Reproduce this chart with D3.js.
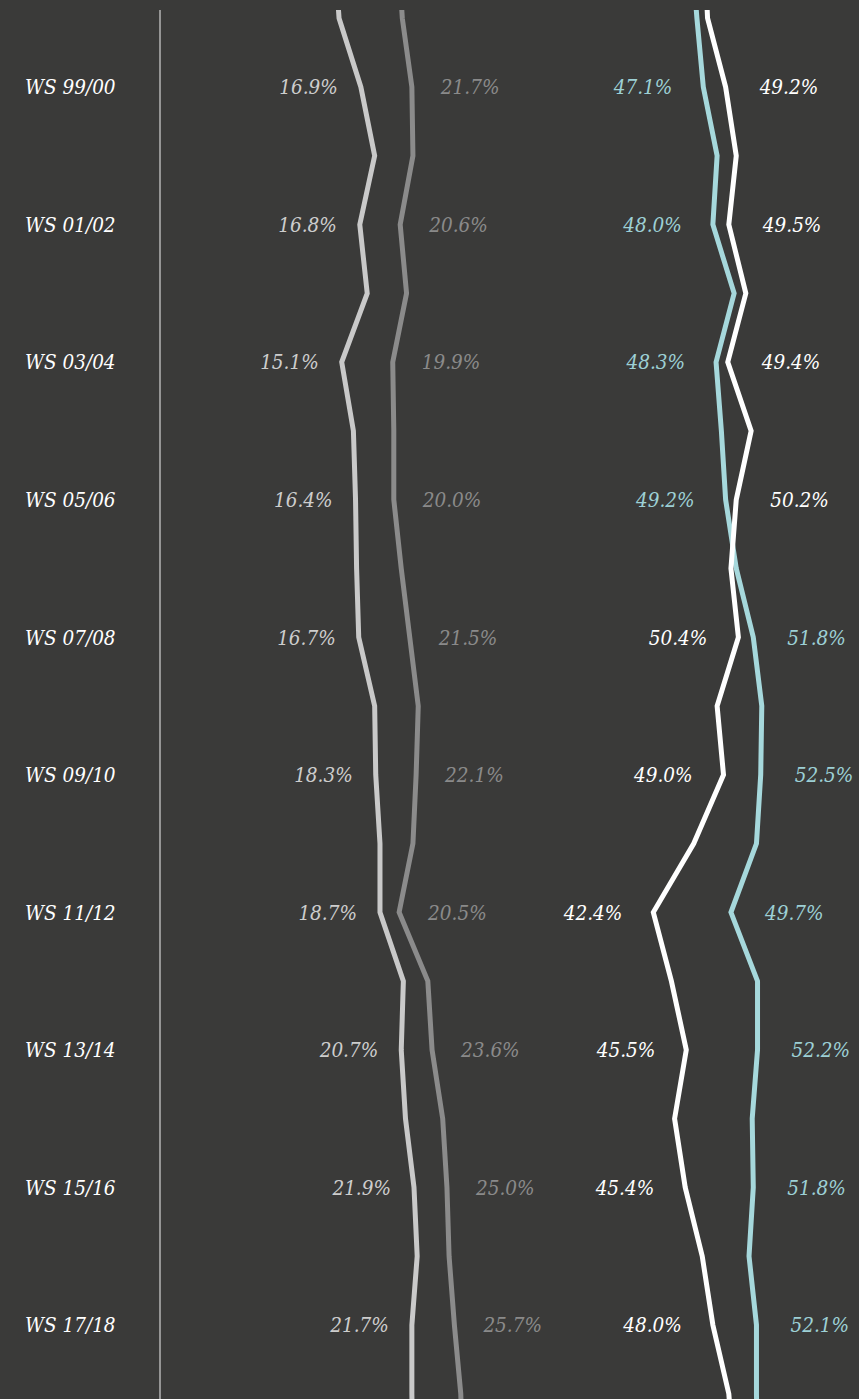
<!DOCTYPE html>
<html>
<head>
<meta charset="utf-8">
<script src="https://cdn.jsdelivr.net/npm/d3@7"></script>
<style>
  html, body { margin: 0; padding: 0; background: #3a3a39; }
  svg { display: block; }
  text { font-family: "DejaVu Serif Condensed", "DejaVu Serif", serif; font-stretch: condensed; font-style: italic; font-size: 20.5px; }
</style>
</head>
<body>
<div id="chart"></div>
<script>
var width = 859, height = 1399;

// semesters (every other one gets a row label)
var semesters = ["WS 97/98", "WS 98/99", "WS 99/00", "WS 00/01", "WS 01/02", "WS 02/03", "WS 03/04",
    "WS 04/05", "WS 05/06", "WS 06/07", "WS 07/08", "WS 08/09", "WS 09/10", "WS 10/11", "WS 11/12",
    "WS 12/13", "WS 13/14", "WS 14/15", "WS 15/16", "WS 16/17", "WS 17/18", "WS 18/19", "WS 19/20"];
var labelled = ["WS 99/00", "WS 01/02", "WS 03/04", "WS 05/06", "WS 07/08", "WS 09/10",
    "WS 11/12", "WS 13/14", "WS 15/16", "WS 17/18"];

// shares in percent
var lightGray = [14.4, 14.85, 16.9, 18.2, 16.8, 17.5, 15.1, 16.2, 16.4, 16.5, 16.7, 18.2, 18.3, 18.7, 18.7, 20.9, 20.7, 21.1, 21.9, 22.2, 21.7, 21.7, 21.8];
var darkGray = [20.4, 20.8, 21.7, 21.8, 20.6, 21.2, 19.9, 20.0, 20.0, 20.7, 21.5, 22.3, 22.1, 21.8, 20.5, 23.2, 23.6, 24.6, 25.0, 25.2, 25.7, 26.3, 26.5];
var blue = [46.0, 46.5, 47.1, 48.4, 48.0, 50.0, 48.3, 48.8, 49.2, 50.2, 51.8, 52.6, 52.5, 52.1, 49.7, 52.2, 52.2, 51.7, 51.8, 51.4, 52.1, 52.1, 52.2];
var white = [47.2, 47.5, 49.2, 50.2, 49.5, 51.1, 49.4, 51.6, 50.2, 49.7, 50.4, 48.4, 49.0, 46.2, 42.4, 44.1, 45.5, 44.4, 45.4, 47.0, 48.0, 49.5, 50.0];

var svg = d3.select("#chart").append("svg")
    .attr("width", width)
    .attr("height", height);

svg.append("defs").append("clipPath").attr("id", "clip")
    .append("rect")
    .attr("x", 0).attr("y", 10)
    .attr("width", width).attr("height", height - 10);

var yScale = d3.scaleLinear()
    .domain([2, 20])
    .range([87, 1325]);

// two pieces of the same scale, the right one broken off
var xLeft = d3.scaleLinear().domain([0, 30]).range([181.2, 500.1]);
var xRight = d3.scaleLinear().domain([40, 55]).range([627.8, 787.3]);

svg.append("line")
    .attr("x1", 160).attr("x2", 160)
    .attr("y1", 10).attr("y2", height)
    .style("stroke", "#b4b4b4")
    .style("stroke-width", 1.5);

var series = [
    { name: "lightGray", values: lightGray, x: xLeft, color: "#c9c9c9", text: "#cdcdcd" },
    { name: "darkGray", values: darkGray, x: xLeft, color: "#8b8b8b", text: "#8a8a8a" },
    { name: "blue", values: blue, x: xRight, color: "#a6d8dc", text: "#9dd0d5" },
    { name: "white", values: white, x: xRight, color: "#ffffff", text: "#ffffff" }
];

var plot = svg.append("g").attr("clip-path", "url(#clip)");

series.forEach(function(s) {
    var line = d3.line()
        .x(function(d) { return s.x(d); })
        .y(function(d, i) { return yScale(i); });
    plot.append("path")
        .datum(s.values)
        .attr("d", line)
        .style("fill", "none")
        .style("stroke", s.color)
        .style("stroke-width", 5)
        .style("stroke-linejoin", "miter");
});

// row labels
labelled.forEach(function(lab) {
    var i = semesters.indexOf(lab);
    svg.append("text")
        .attr("x", 25)
        .attr("y", yScale(i))
        .attr("dy", "0.36em")
        .style("fill", "#ffffff")
        .text(lab);
});

var fmt = function(v) { return v.toFixed(1) + "%"; };

labelled.forEach(function(lab) {
    var i = semesters.indexOf(lab);
    var y = yScale(i);

    svg.append("text")
        .attr("x", xLeft(lightGray[i]) - 23)
        .attr("y", y).attr("dy", "0.36em")
        .attr("text-anchor", "end")
        .style("fill", series[0].text)
        .text(fmt(lightGray[i]));

    svg.append("text")
        .attr("x", xLeft(darkGray[i]) + 29)
        .attr("y", y).attr("dy", "0.36em")
        .style("fill", series[1].text)
        .text(fmt(darkGray[i]));

    // lower of the two right lines is labelled on the left
    var low = blue[i] < white[i] ? series[2] : series[3];
    var high = low === series[2] ? series[3] : series[2];
    svg.append("text")
        .attr("x", xRight(low.values[i]) - 31)
        .attr("y", y).attr("dy", "0.36em")
        .attr("text-anchor", "end")
        .style("fill", low.text)
        .text(fmt(low.values[i]));
    svg.append("text")
        .attr("x", xRight(high.values[i]) + 34)
        .attr("y", y).attr("dy", "0.36em")
        .style("fill", high.text)
        .text(fmt(high.values[i]));
});
</script>
</body>
</html>
